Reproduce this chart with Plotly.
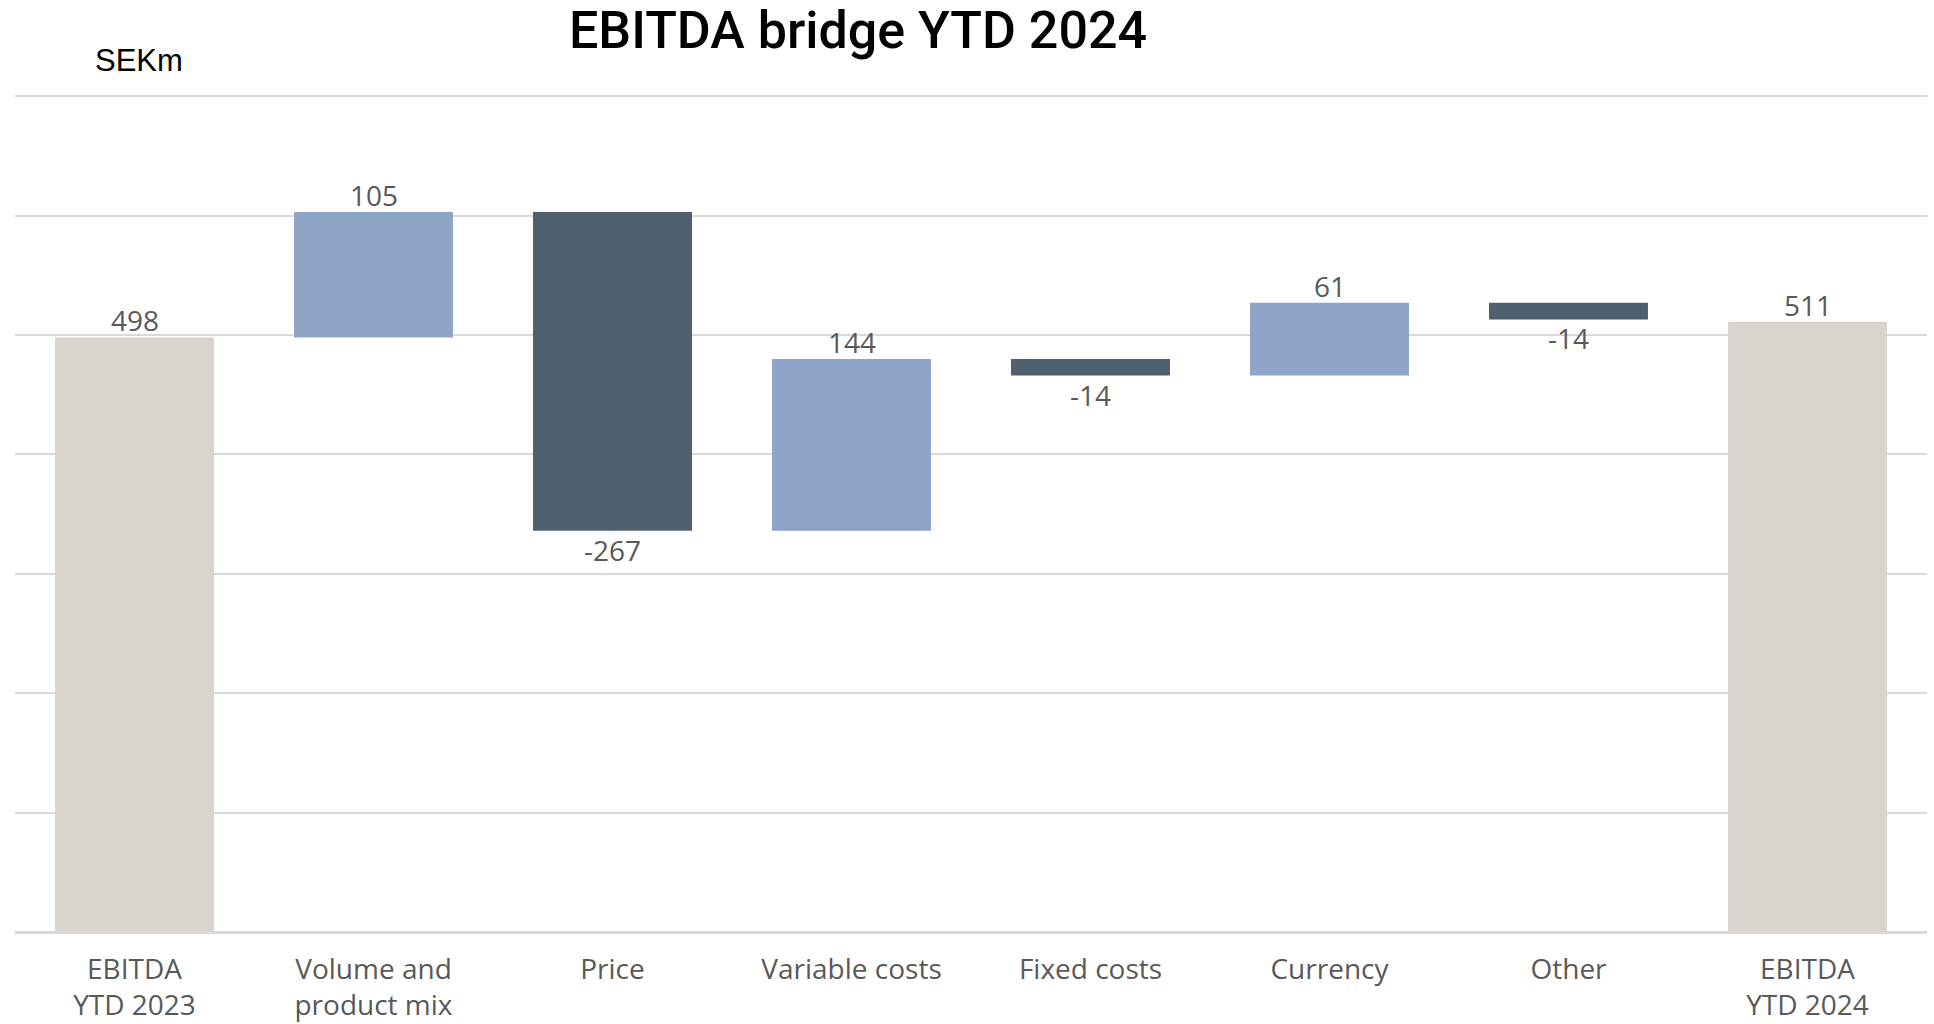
import plotly.graph_objects as go

categories = ["EBITDA<br>YTD 2023", "Volume and<br>product mix", "Price", "Variable costs",
              "Fixed costs", "Currency", "Other", "EBITDA<br>YTD 2024"]
values = [498, 105, -267, 144, -14, 61, -14, 511]
measures = ["total", "relative", "relative", "relative", "relative", "relative", "relative", "total"]

C_TOTAL = "#D9D5CE"
C_UP = "#8FA5C7"
C_DOWN = "#4E5F6E"
LABEL_COLOR = "#595959"
FONT = "Open Sans, Noto Sans, sans-serif"

bases, heights, colors = [], [], []
running = 0
for v, m in zip(values, measures):
    if m == "total":
        bases.append(0)
        heights.append(v)
        colors.append(C_TOTAL)
        running = v
    else:
        bases.append(running)
        heights.append(v)
        colors.append(C_UP if v >= 0 else C_DOWN)
        running += v

fig = go.Figure()
fig.add_trace(go.Bar(
    x=categories, y=heights, base=bases,
    marker=dict(color=colors, line=dict(width=0)),
    hoverinfo="skip", showlegend=False,
))

annotations = []
for cat, b, h, v, m in zip(categories, bases, heights, values, measures):
    if m == "total" or v >= 0:
        annotations.append(dict(x=cat, y=b + h, text=str(v), showarrow=False,
                                xref="x", yref="y", yanchor="bottom", yshift=-4,
                                font=dict(family=FONT, size=28, color=LABEL_COLOR)))
    else:
        annotations.append(dict(x=cat, y=b + h, text=str(v), showarrow=False,
                                xref="x", yref="y", yanchor="top", yshift=2,
                                font=dict(family=FONT, size=28, color=LABEL_COLOR)))

annotations.append(dict(text="SEKm", xref="paper", yref="paper", x=(93 - 15) / 1912,
                        y=(932 - 61) / 837, xanchor="left", yanchor="middle", showarrow=False,
                        font=dict(family="Liberation Sans, Arial, sans-serif", size=31, color="#000000")))

fig.update_layout(
    width=1934, height=1024,
    margin=dict(l=15, r=7, t=95, b=92, autoexpand=False),
    paper_bgcolor="white", plot_bgcolor="white",
    bargap=0.335,
    title=dict(text="EBITDA bridge YTD 2024", x=858 / 1934, xanchor="center", xref="container",
               y=1 - 30 / 1024, yanchor="middle", yref="container",
               font=dict(family="Roboto, Liberation Sans, sans-serif", size=52, color="#000000", weight=500)),
    annotations=annotations,
    xaxis=dict(showgrid=False, showline=False, zeroline=False, ticks="", automargin=False,
               ticklabelstandoff=18,
               tickfont=dict(family=FONT, size=28, color=LABEL_COLOR)),
    yaxis=dict(range=[0, 701], dtick=100, showticklabels=False, showgrid=True, automargin=False,
               gridcolor="#D9D9D9", gridwidth=2, zeroline=True, zerolinecolor="#D9D9D9",
               zerolinewidth=3, showline=False),
)

fig.write_html("out.html")
